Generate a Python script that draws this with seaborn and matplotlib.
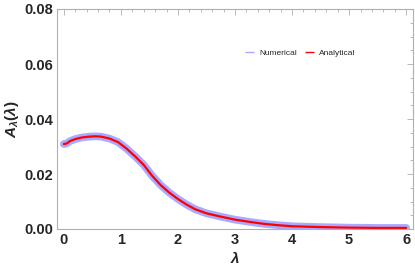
import numpy as np
import pandas as pd
import matplotlib
matplotlib.use("Agg")
import matplotlib.pyplot as plt
import seaborn as sns
from matplotlib.ticker import MultipleLocator

lam = [0, 0.05, 0.11, 0.2, 0.32, 0.45, 0.55, 0.65, 0.8, 0.95, 1.1, 1.25, 1.4,
       1.55, 1.7, 1.85, 2.0, 2.15, 2.3, 2.5, 2.75, 3.0, 3.25, 3.5, 3.75, 4.0,
       4.5, 5.0, 5.5, 6.0]
numerical = [0.0309, 0.0311, 0.0320, 0.0327, 0.0333, 0.0336, 0.0337, 0.0336,
             0.0329, 0.0316, 0.0292, 0.0264, 0.0233, 0.0193, 0.0159, 0.0132,
             0.0109, 0.0089, 0.0072, 0.0057, 0.0045, 0.0034, 0.0026, 0.0019,
             0.0014, 0.0010, 0.0007, 0.0005, 0.0004, 0.0004]
analytical = list(numerical)

sns.set_style("white")
plt.rcParams['font.family'] = ['Liberation Sans', 'DejaVu Sans']
plt.rcParams['mathtext.fontset'] = 'custom'
plt.rcParams['mathtext.it'] = 'Liberation Sans:italic:bold'
plt.rcParams['mathtext.rm'] = 'Liberation Sans:bold'

df = pd.DataFrame({"lam": lam, "Numerical": numerical, "Analytical": analytical})

fig = plt.figure(figsize=(4.15, 2.73), dpi=100)
ax = fig.add_axes([57/415, 1-229/273, (413-57)/415, (229-9)/273])

sns.lineplot(data=df, x="lam", y="Numerical", ax=ax, color="#a9a9ff", lw=5.5,
             label="Numerical", solid_capstyle="round", solid_joinstyle="round")
sns.lineplot(data=df, x="lam", y="Analytical", ax=ax, color="#ff0000", lw=1.6,
             label="Analytical", solid_joinstyle="round")

ax.set_xlim(-0.12, 6.12)
ax.set_ylim(0, 0.08)
ax.xaxis.set_major_locator(MultipleLocator(1))
ax.xaxis.set_minor_locator(MultipleLocator(0.2))
ax.yaxis.set_major_locator(MultipleLocator(0.02))
ax.yaxis.set_minor_locator(MultipleLocator(0.005))
ax.yaxis.set_major_formatter(matplotlib.ticker.FormatStrFormatter('%.2f'))

for s in ax.spines.values():
    s.set_color('#b0b0b0')
    s.set_linewidth(0.8)
ax.tick_params(which='both', direction='in', top=True, right=True,
               color='#b0b0b0', width=0.6)
ax.tick_params(which='major', length=4, labelsize=10.5, pad=3)
ax.tick_params(which='minor', length=2.2)
for lab in ax.get_xticklabels() + ax.get_yticklabels():
    lab.set_fontweight('bold')

ax.set_xlabel(r'$\lambda$', fontsize=11, labelpad=2)
ax.set_ylabel(r'$A_\lambda(\lambda)$', fontsize=11, labelpad=2)

leg = ax.legend(loc='center', bbox_to_anchor=(0.683, 0.80), ncol=2, frameon=False,
                fontsize=6, handlelength=1.1, columnspacing=1.0, handletextpad=0.6)
for h in leg.legend_handles:
    h.set_linewidth(1.0)
    h.set_solid_capstyle("butt")

fig.savefig("out.png", dpi=100)
